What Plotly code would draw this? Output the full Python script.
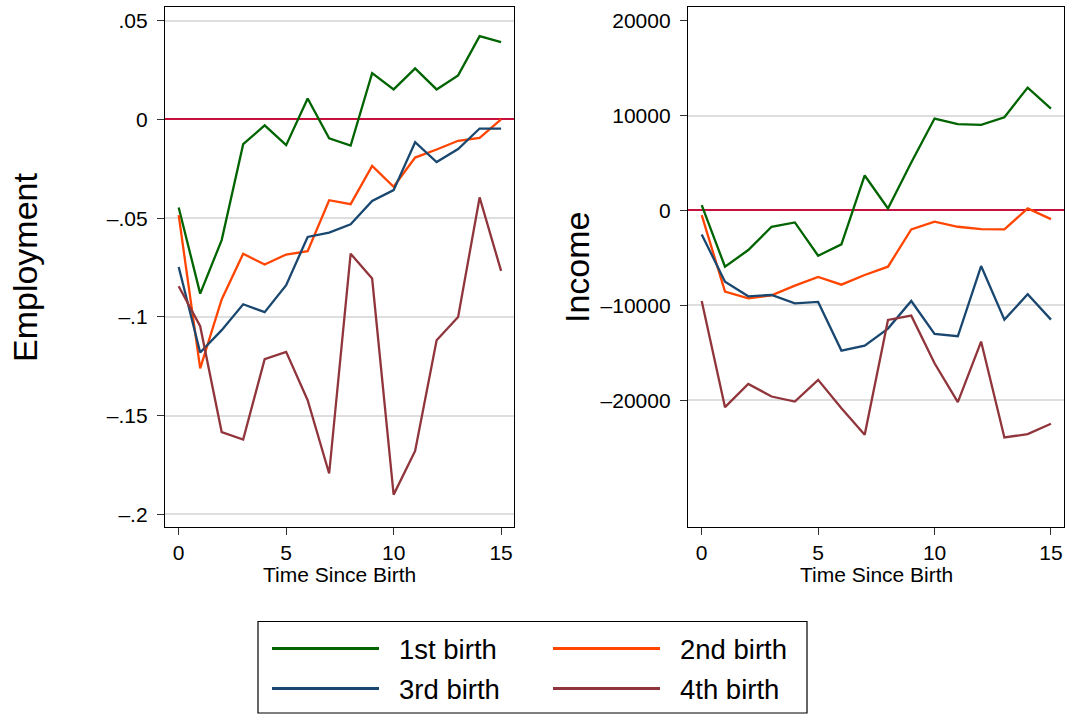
import plotly.graph_objects as go
from plotly.subplots import make_subplots

years = list(range(16))

emp_1st = [-0.0446, -0.0882, -0.0611, -0.0125, -0.0030, -0.0130, 0.0106, -0.0096,
           -0.0132, 0.0235, 0.0152, 0.0259, 0.0152, 0.0223, 0.0422, 0.0392]
emp_2nd = [-0.0485, -0.1261, -0.0912, -0.0680, -0.0735, -0.0684, -0.0667, -0.0409,
           -0.0429, -0.0235, -0.0341, -0.0193, -0.0152, -0.0108, -0.0093, 0.0000]
emp_3rd = [-0.0747, -0.1180, -0.1067, -0.0936, -0.0976, -0.0839, -0.0595, -0.0573,
           -0.0531, -0.0413, -0.0358, -0.0115, -0.0216, -0.0150, -0.0046, -0.0046]
emp_4th = [-0.0845, -0.1047, -0.1583, -0.1621, -0.1214, -0.1177, -0.1422, -0.1793,
           -0.0680, -0.0806, -0.1900, -0.1679, -0.1118, -0.1000, -0.0395, -0.0767]

inc_1st = [561, -5930, -4176, -1720, -1263, -4772, -3579, 3684,
           210, 5050, 9685, 9088, 9018, 9825, 12948, 10737]
inc_2nd = [-491, -8561, -9263, -8950, -7930, -7018, -7825, -6807,
           -5930, -2000, -1193, -1720, -1965, -2000, 210, -912]
inc_3rd = [-2526, -7509, -9052, -8912, -9789, -9649, -14772, -14246,
           -12456, -9544, -13018, -13263, -5860, -11509, -8842, -11509]
inc_4th = [-9544, -20737, -18281, -19614, -20140, -17860, -20842, -23649,
           -11544, -11088, -16106, -20211, -13825, -23930, -23580, -22492]

series_names = ["1st birth", "2nd birth", "3rd birth", "4th birth"]
series_colors = ["#006400", "#ff4500", "#1a476f", "#90353b"]

emp_ticks = [0.05, 0, -0.05, -0.1, -0.15, -0.2]
emp_ticktext = [".05", "0", "\u2013.05", "\u2013.1", "\u2013.15", "\u2013.2"]
emp_grid = [0.05, -0.05, -0.1, -0.15, -0.2]
inc_ticks = [20000, 10000, 0, -10000, -20000]
inc_ticktext = ["20000", "10000", "0", "\u201310000", "\u201320000"]
inc_grid = [10000, -10000, -20000]
x_ticks = [0, 5, 10, 15]

W, H = 1067, 715
FONT = "Liberation Sans, Arial, sans-serif"
GRID = "#dedede"
ZERO = "#c8103f"

fig = make_subplots(rows=1, cols=2)

for name, col, ys in zip(series_names, series_colors, [emp_1st, emp_2nd, emp_3rd, emp_4th]):
    fig.add_trace(go.Scatter(x=years, y=ys, mode="lines", name=name,
                             line=dict(color=col, width=2.3), showlegend=False), row=1, col=1)
for name, col, ys in zip(series_names, series_colors, [inc_1st, inc_2nd, inc_3rd, inc_4th]):
    fig.add_trace(go.Scatter(x=years, y=ys, mode="lines", name=name,
                             line=dict(color=col, width=2.3), showlegend=False), row=1, col=2)

common_axis = dict(showline=True, linecolor="black", linewidth=1.3, mirror=True,
                   ticks="outside", ticklen=7, tickcolor="#333333", tickwidth=1,
                   tickfont=dict(family=FONT, size=21, color="black"))

fig.update_xaxes(**common_axis, tickmode="array", tickvals=x_ticks, showgrid=False, zeroline=False)
fig.update_xaxes(domain=[165 / W, 514 / W], range=[-0.637, 15.6], row=1, col=1)
fig.update_xaxes(domain=[688 / W, 1064 / W], range=[-0.589, 15.56], row=1, col=2)

ydom = [1 - 527 / H, 1 - 6.7 / H]
fig.update_yaxes(**common_axis, domain=ydom, showgrid=False,
                 zeroline=True, zerolinecolor=ZERO, zerolinewidth=1.6,
                 ticklabelstandoff=5)
fig.update_yaxes(range=[-0.2064, 0.0571], tickmode="array", tickvals=emp_ticks, ticktext=emp_ticktext,
                 minor=dict(tickmode="array", tickvals=emp_grid, showgrid=True, gridcolor=GRID,
                            gridwidth=2, ticklen=0),
                 row=1, col=1)
fig.update_yaxes(range=[-33368, 21474], tickmode="array", tickvals=inc_ticks, ticktext=inc_ticktext,
                 minor=dict(tickmode="array", tickvals=inc_grid, showgrid=True, gridcolor=GRID,
                            gridwidth=2, ticklen=0),
                 row=1, col=2)

annotations = [
    dict(text="Employment", x=25 / W, y=1 - 267 / H, xref="paper", yref="paper", textangle=-90,
         showarrow=False, xanchor="center", yanchor="middle",
         font=dict(family=FONT, size=34, color="black")),
    dict(text="Income", x=577 / W, y=1 - 267 / H, xref="paper", yref="paper", textangle=-90,
         showarrow=False, xanchor="center", yanchor="middle",
         font=dict(family=FONT, size=34, color="black")),
    dict(text="Time Since Birth", x=(165 + 514) / 2 / W, y=1 - 574.5 / H, xref="paper", yref="paper",
         showarrow=False, xanchor="center", yanchor="middle", borderpad=0,
         font=dict(family=FONT, size=21, color="black")),
    dict(text="Time Since Birth", x=(688 + 1064) / 2 / W, y=1 - 574.5 / H, xref="paper", yref="paper",
         showarrow=False, xanchor="center", yanchor="middle", borderpad=0,
         font=dict(family=FONT, size=21, color="black")),
]

shapes = [dict(type="rect", xref="paper", yref="paper", x0=258 / W, x1=807 / W,
               y0=1 - 713 / H, y1=1 - 621.5 / H, line=dict(color="black", width=1.2),
               fillcolor="white", layer="below")]

leg_pos = [(272, 379, 397, 648.5), (553, 660, 678, 648.5), (272, 379, 397, 688.5), (553, 660, 678, 688.5)]
for (lx0, lx1, tx, py), name, col in zip(leg_pos, series_names, series_colors):
    shapes.append(dict(type="line", xref="paper", yref="paper", x0=lx0 / W, x1=lx1 / W,
                       y0=1 - py / H, y1=1 - py / H, line=dict(color=col, width=3.2)))
    annotations.append(dict(text=name, x=tx / W, y=1 - (py + 1) / H, xref="paper", yref="paper",
                            showarrow=False, xanchor="left", yanchor="middle",
                            font=dict(family=FONT, size=27.5, color="black")))

fig.update_layout(width=W, height=H, autosize=False, margin=dict(l=0, r=0, t=0, b=0),
                  paper_bgcolor="white", plot_bgcolor="white",
                  annotations=annotations, shapes=shapes,
                  font=dict(family=FONT, color="black"))

fig.write_html("out.html", config={"displayModeBar": False},
               post_script="document.body.style.margin='0';")
